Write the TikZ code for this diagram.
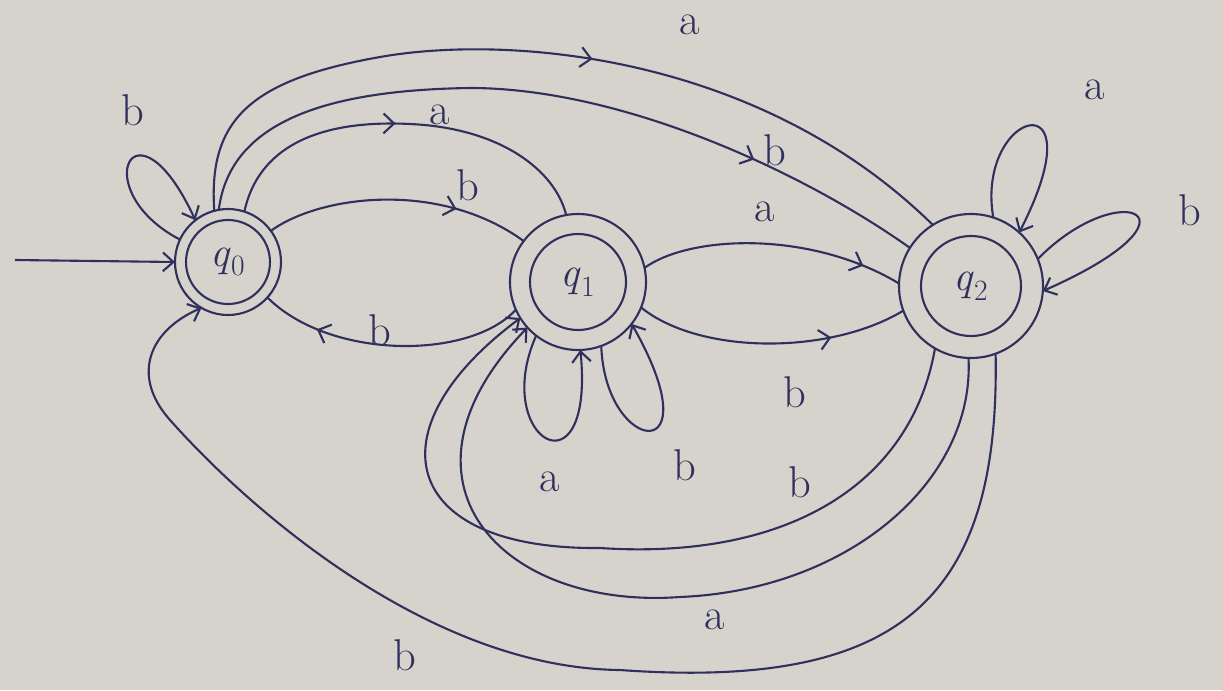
\documentclass[tikz,border=0pt]{standalone}
\usetikzlibrary{arrows.meta,decorations.markings}
\definecolor{ink}{RGB}{48,48,92}
\definecolor{paper}{RGB}{214,211,205}
\tikzset{
  state/.style={draw=ink, circle, line width=1.8pt, inner sep=0pt, outer sep=0pt, text=ink, font=\fontsize{36}{42}\selectfont},
  ring/.style={draw=ink, line width=1.8pt},
  edge/.style={draw=ink, line width=1.8pt},
  tip/.style={-{Straight Barb[length=9pt,width=16pt]}},
  midarrow/.style={postaction={decorate}, decoration={markings, mark=at position #1 with {\arrow[ink,line width=1.8pt]{Straight Barb[length=9pt,width=17pt]}}}},
  lbl/.style={text=ink, inner sep=0pt, font=\fontsize{38}{44}\selectfont},
}
\newcommand{\stname}[1]{\textit{q}\textsubscript{#1}}
\begin{document}
\begin{tikzpicture}[x=0.03cm,y=-0.03cm]
\fill[paper] (0,0) rectangle (1223,690);
\useasboundingbox (0,0) rectangle (1223,690);

% states
\node[state, minimum size=3.18cm] (q0) at (228,262) {\stname{0}};
\node[state, minimum size=4.08cm] (q1) at (578,282) {\stname{1}};
\node[state, minimum size=4.32cm] (q2) at (971,286) {\stname{2}};
\draw[ring] (q0.center) circle[radius=1.26cm];
\draw[ring] (q1.center) circle[radius=1.44cm];
\draw[ring] (q2.center) circle[radius=1.5cm];

% initial arrow
\coordinate (init) at (15,260);
\draw[edge,tip] (init) -- (q0.180);

% q0 self-loop b
\draw[edge,tip] (q0.155) .. controls (85,190) and (135,90) .. (q0.128);

% q0 -> q2 a (top arc)
\draw[edge,midarrow=0.55] (q0.105) .. controls (208,120) and (250,80) .. (380,57) .. controls (510,34) and (760,55) .. (q2.122);
% q0 -> q2 b
\draw[edge,midarrow=0.77] (q0.100) .. controls (230,120) and (330,90) .. (470,88) .. controls (620,88) and (800,170) .. (q2.148);
% q0 -> q1 a
\draw[edge,midarrow=0.48] (q0.72) .. controls (260,140) and (330,120) .. (410,124) .. controls (500,128) and (555,170) .. (q1.100);
% q0 -> q1 b
\draw[edge,midarrow=0.72] (q0.36) .. controls (320,195) and (440,180) .. (q1.143);
% q1 -> q0 b
\draw[edge,midarrow=0.78] (q1.204) .. controls (470,360) and (330,360) .. (q0.318);
% q1 -> q2 a
\draw[edge,midarrow=0.85] (q1.12) .. controls (690,235) and (810,230) .. (q2.178);
% q1 -> q2 b
\draw[edge,midarrow=0.72] (q1.338) .. controls (700,355) and (830,355) .. (q2.200);

% q1 self-loops
\draw[edge,tip] (q1.232) .. controls (490,440) and (595,500) .. (q1.272);
\draw[edge,tip] (q1.290) .. controls (605,455) and (715,470) .. (q1.322);

% q2 self-loops
\draw[edge,tip] (q2.72) .. controls (975,110) and (1100,75) .. (q2.48);
\draw[edge,tip] (q2.22) .. controls (1120,175) and (1215,215) .. (q2.356);

% q2 -> q1 b
\draw[edge,tip] (q2.240) .. controls (910,490) and (780,560) .. (600,548) .. controls (400,550) and (370,430) .. (q1.212);
% q2 -> q1 a
\draw[edge,tip] (q2.268) .. controls (975,480) and (850,590) .. (680,597) .. controls (500,610) and (380,480) .. (q1.222);
% q2 -> q0 b
\draw[edge,tip] (q2.290) .. controls (1000,600) and (900,690) .. (620,670) .. controls (430,668) and (250,510) .. (170,420) .. controls (130,375) and (150,330) .. (q0.240);

% labels
\node[lbl] (l1) at (133,110) {b};
\node[lbl] (l2) at (690,25) {a};
\node[lbl] (l3) at (775,150) {b};
\node[lbl] (l4) at (440,115) {a};
\node[lbl] (l5) at (468,185) {b};
\node[lbl] (l6) at (765,212) {a};
\node[lbl] (l7) at (380,330) {b};
\node[lbl] (l8) at (795,392) {b};
\node[lbl] (l9) at (550,482) {a};
\node[lbl] (l10) at (685,465) {b};
\node[lbl] (l11) at (800,482) {b};
\node[lbl] (l12) at (715,620) {a};
\node[lbl] (l13) at (405,655) {b};
\node[lbl] (l14) at (1095,90) {a};
\node[lbl] (l15) at (1190,210) {b};
\end{tikzpicture}
\end{document}
